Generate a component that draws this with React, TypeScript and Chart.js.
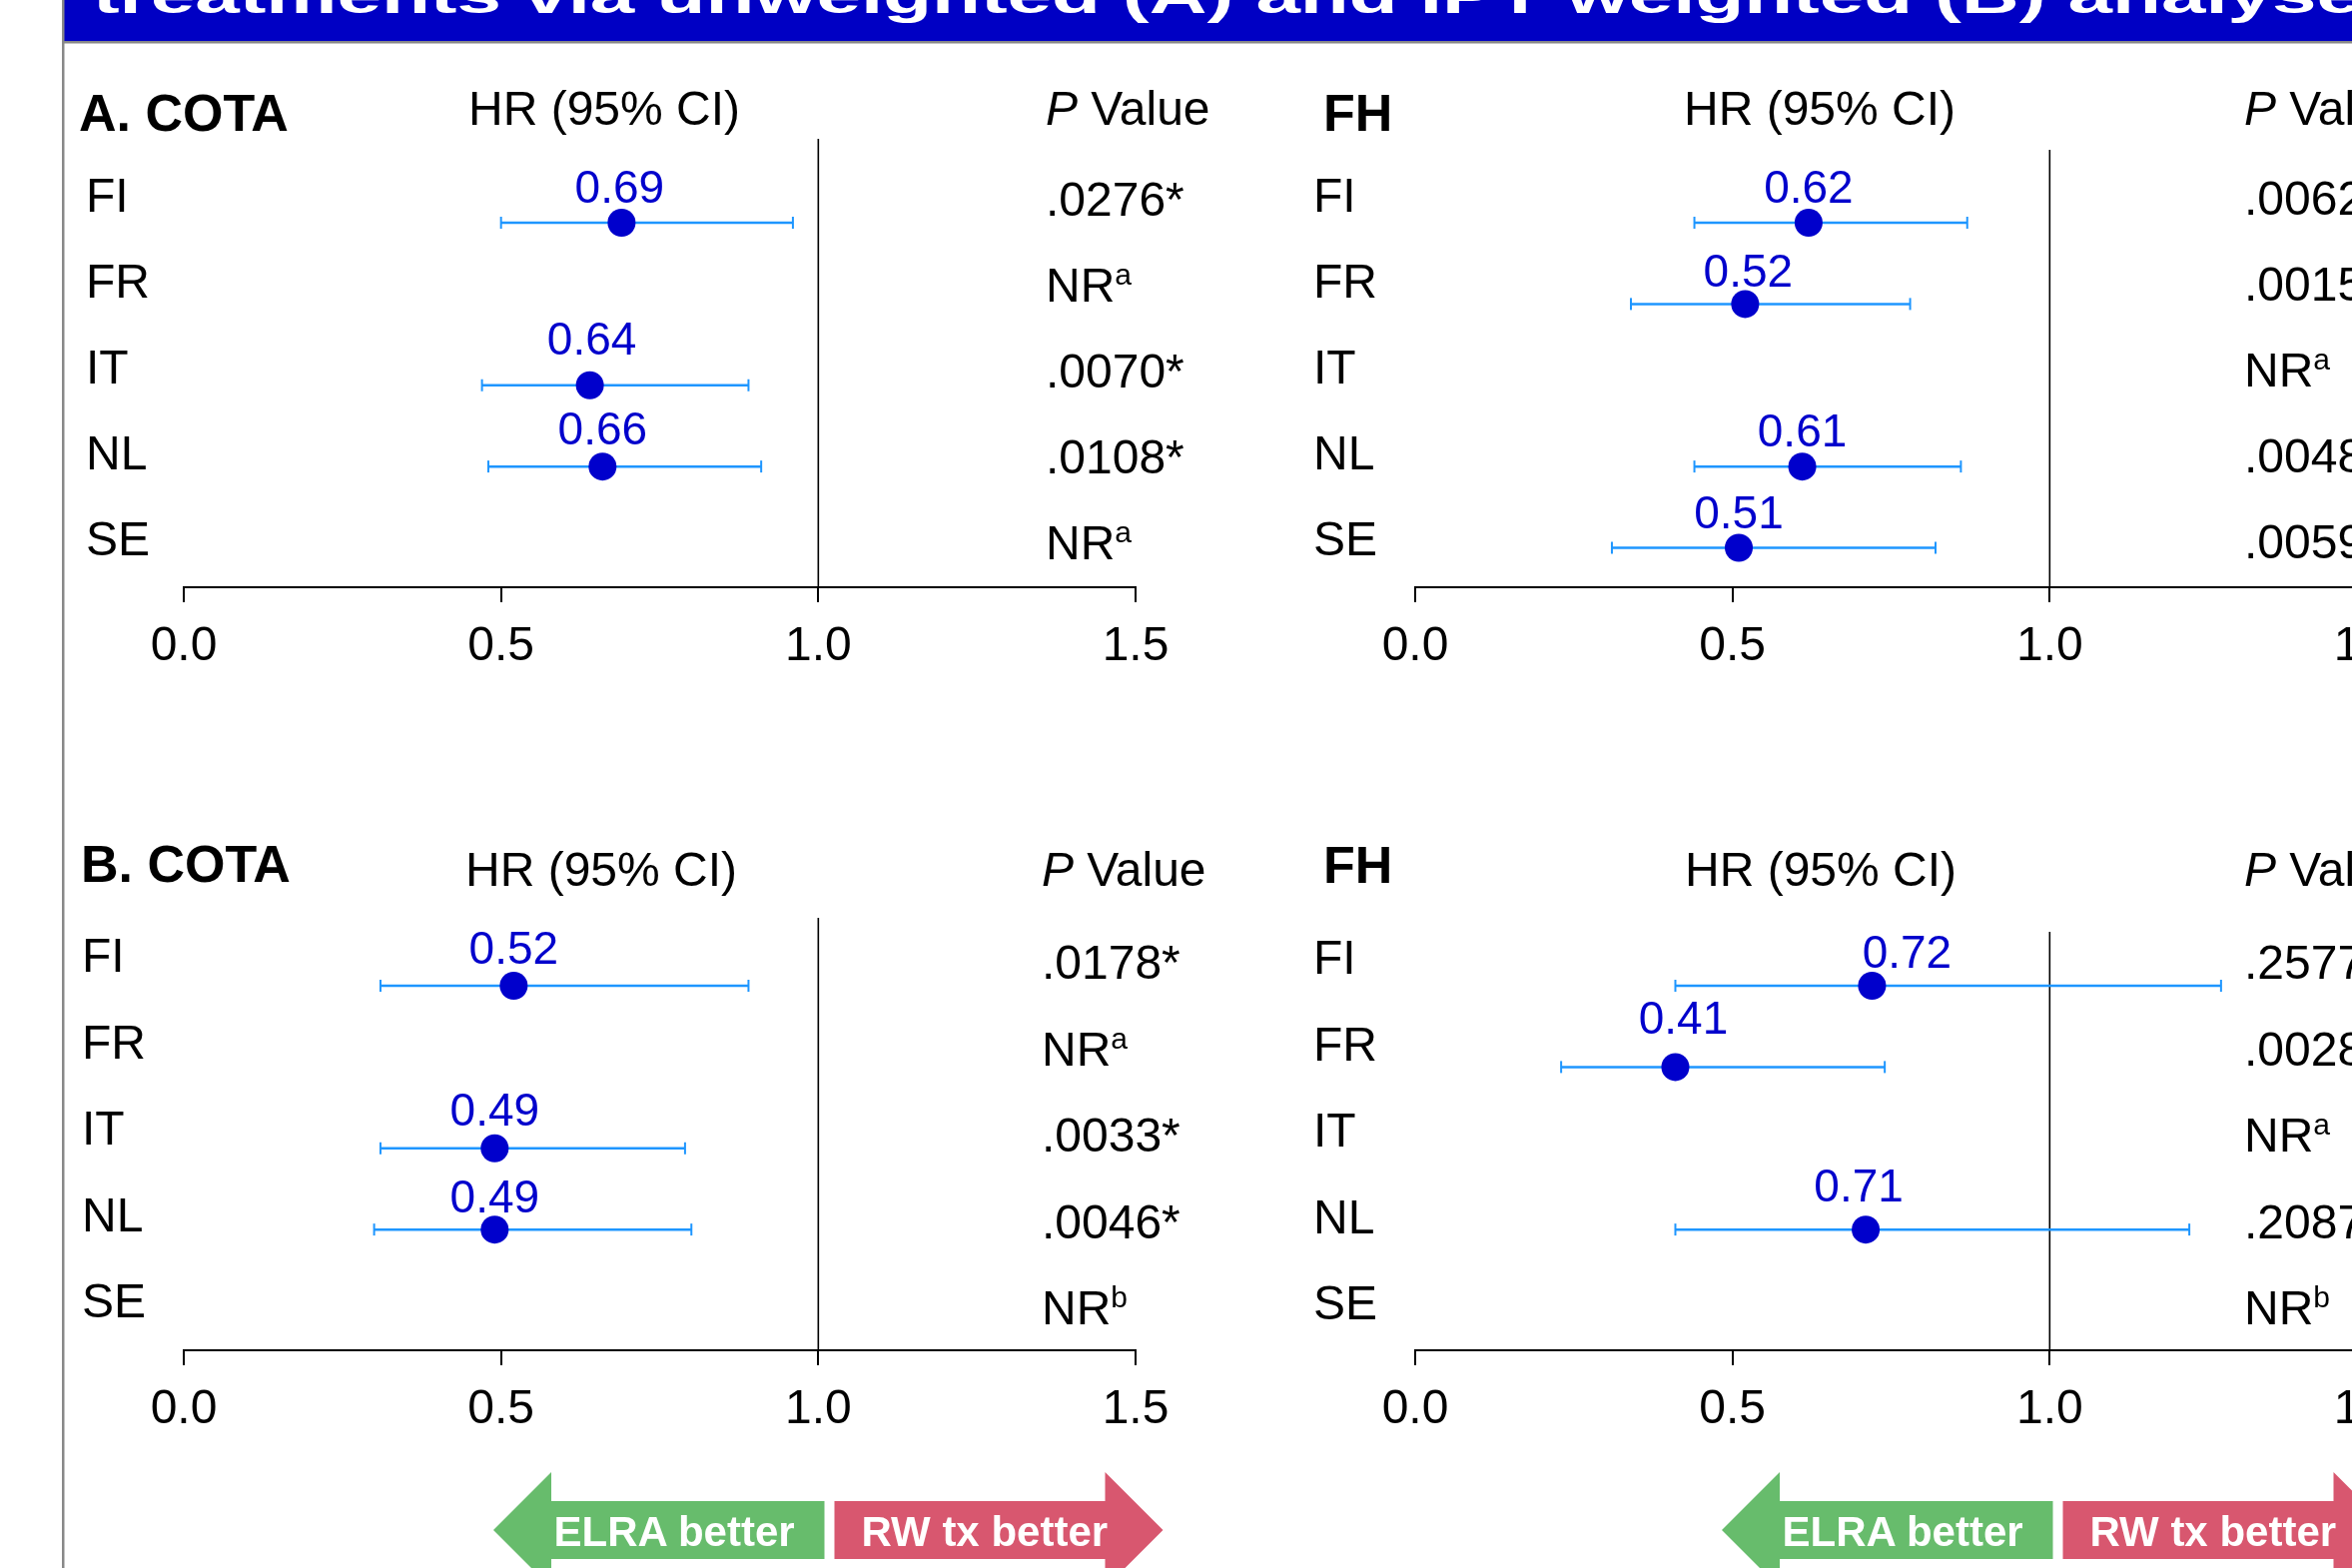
import React, { useEffect, useRef } from 'react';
import { Chart, registerables } from 'chart.js';

Chart.register(...registerables);

// ---------------- DATA ----------------
const countries = ['FI', 'FR', 'IT', 'NL', 'SE'];
const tickValues = [0, 0.5, 1.0, 1.5];

const cotaA_hr = [0.69, null, 0.64, 0.66, null];
const cotaA_lo = [0.5, null, 0.47, 0.48, null];
const cotaA_hi = [0.96, null, 0.89, 0.91, null];
const cotaA_p = ['.0276*', 'NR^a', '.0070*', '.0108*', 'NR^a'];

const fhA_hr = [0.62, 0.52, null, 0.61, 0.51];
const fhA_lo = [0.44, 0.34, null, 0.44, 0.31];
const fhA_hi = [0.87, 0.78, null, 0.86, 0.82];
const fhA_p = ['.0062*', '.0015*', 'NR^a', '.0048*', '.0059*'];

const cotaB_hr = [0.52, null, 0.49, 0.49, null];
const cotaB_lo = [0.31, null, 0.31, 0.3, null];
const cotaB_hi = [0.89, null, 0.79, 0.8, null];
const cotaB_p = ['.0178*', 'NR^a', '.0033*', '.0046*', 'NR^b'];

const fhB_hr = [0.72, 0.41, null, 0.71, null];
const fhB_lo = [0.41, 0.23, null, 0.41, null];
const fhB_hi = [1.27, 0.74, null, 1.22, null];
const fhB_p = ['.2577', '.0028*', 'NR^a', '.2087', 'NR^b'];

const titleText = 'treatments via unweighted (A) and IPT weighted (B) analyses';

// ---------------- STYLE / LAYOUT ----------------
const FONT = "'Liberation Sans', Arial, Helvetica, sans-serif";
const DOT = '#0000CC';
const CI = '#1E96FF';
const BANNER = '#0000C4';
const GREEN = '#67BC6C';
const RED = '#D8576F';

const PAD_L = 60;
const PAD_R = 60;
const X_SPAN = 953; // pixels for 0..1.5
const AREA_H = 496;
const XAXIS_H = 101;
const ROW_PX = 81.375;
const Y_MAX = 4 + 39.5 / ROW_PX;
const Y_MIN = Y_MAX - AREA_H / ROW_PX;

type Panel = {
  key: string;
  title: string;
  hr: (number | null)[];
  lo: (number | null)[];
  hi: (number | null)[];
  p: string[];
  labelGap: number[];
  labelShift: number[];
  x0: number;
  axisY: number;
  refTop: number;
  titleX: number;
  titleY: number;
  hrX: number;
  hrY: number;
  pHX: number;
  pHY: number;
  rowX: number;
  rowY0: number;
  pX: number;
  pY0: number;
  step: number;
};

const panels: Panel[] = [
  {
    key: 'cotaA', title: 'A. COTA', hr: cotaA_hr, lo: cotaA_lo, hi: cotaA_hi, p: cotaA_p,
    labelGap: [20, 20, 31, 22, 20], labelShift: [-2, 0, 2, 0, 0],
    x0: 184, axisY: 588, refTop: 139, titleX: 79, titleY: 131, hrX: 469, hrY: 125,
    pHX: 1047, pHY: 125, rowX: 86, rowY0: 212, pX: 1047, pY0: 216, step: 86,
  },
  {
    key: 'fhA', title: 'FH', hr: fhA_hr, lo: fhA_lo, hi: fhA_hi, p: fhA_p,
    labelGap: [20, 17, 20, 20, 20], labelShift: [0, 3, 0, 0, 0],
    x0: 1417, axisY: 588, refTop: 150, titleX: 1325, titleY: 131, hrX: 1686, hrY: 125,
    pHX: 2247, pHY: 125, rowX: 1315, rowY0: 212, pX: 2247, pY0: 215, step: 86,
  },
  {
    key: 'cotaB', title: 'B. COTA', hr: cotaB_hr, lo: cotaB_lo, hi: cotaB_hi, p: cotaB_p,
    labelGap: [22, 20, 23, 17, 20], labelShift: [0, 0, 0, 0, 0],
    x0: 184, axisY: 1352, refTop: 919, titleX: 81, titleY: 883, hrX: 466, hrY: 887,
    pHX: 1043, pHY: 887, rowX: 82, rowY0: 973, pX: 1043, pY0: 980, step: 86.5,
  },
  {
    key: 'fhB', title: 'FH', hr: fhB_hr, lo: fhB_lo, hi: fhB_hi, p: fhB_p,
    labelGap: [18, 33, 20, 28, 20], labelShift: [35, 8, 0, -7, 0],
    x0: 1417, axisY: 1352, refTop: 933, titleX: 1325, titleY: 884, hrX: 1687, hrY: 887,
    pHX: 2247, pHY: 887, rowX: 1315, rowY0: 975, pX: 2247, pY0: 980, step: 86.5,
  },
];

// ---------------- PLUGINS ----------------
const refLinePlugin = {
  id: 'refLine',
  beforeDatasetsDraw(chart: any, _args: any, opts: any) {
    const { ctx, scales, chartArea } = chart;
    const x = scales.x.getPixelForValue(opts.value);
    const yTop = scales.y.getPixelForValue(opts.from);
    ctx.save();
    ctx.strokeStyle = '#000';
    ctx.lineWidth = 1.6;
    ctx.beginPath();
    ctx.moveTo(x, yTop);
    ctx.lineTo(x, chartArea.bottom);
    ctx.stroke();
    ctx.restore();
  },
};

const hrLabelPlugin = {
  id: 'hrLabels',
  afterDatasetsDraw(chart: any, _args: any, opts: any) {
    const { ctx, scales } = chart;
    const hr: (number | null)[] = opts.hr || [];
    const gap: number[] = opts.gap || [];
    const shift: number[] = opts.shift || [];
    ctx.save();
    ctx.font = `46px ${FONT}`;
    ctx.fillStyle = DOT;
    ctx.textAlign = 'center';
    ctx.textBaseline = 'alphabetic';
    hr.forEach((v, i) => {
      if (v == null) return;
      ctx.fillText(
        v.toFixed(2),
        scales.x.getPixelForValue(v) + (shift[i] || 0),
        scales.y.getPixelForValue(i) - (gap[i] ?? 21)
      );
    });
    ctx.restore();
  },
};

function ForestChart({ panel }: { panel: Panel }) {
  const ref = useRef<HTMLCanvasElement | null>(null);
  useEffect(() => {
    if (!ref.current) return;
    const points = panel.hr
      .map((v, i) => (v == null ? null : { x: v, y: i }))
      .filter((d) => d !== null);
    const ciSets = panel.hr
      .map((v, i) => {
        if (v == null || panel.lo[i] == null || panel.hi[i] == null) return null;
        return {
          type: 'line',
          data: [
            { x: panel.lo[i], y: i },
            { x: panel.hi[i], y: i },
          ],
          borderColor: CI,
          borderWidth: 2.5,
          pointStyle: 'line',
          pointRotation: 90,
          pointRadius: 6,
          pointHoverRadius: 6,
          pointBorderColor: CI,
          pointBorderWidth: 2,
          fill: false,
          order: 1,
        };
      })
      .filter((d) => d !== null);

    const chart = new Chart(ref.current, {
      type: 'scatter',
      data: {
        datasets: [
          {
            type: 'scatter',
            data: points as any,
            pointRadius: 14,
            pointHoverRadius: 14,
            backgroundColor: DOT,
            borderColor: DOT,
            borderWidth: 0,
            order: 0,
          } as any,
          ...(ciSets as any[]),
        ],
      },
      options: {
        animation: false,
        responsive: false,
        maintainAspectRatio: false,
        events: [],
        layout: { autoPadding: false, padding: { left: PAD_L, right: PAD_R, top: 0, bottom: 0 } },
        plugins: {
          legend: { display: false },
          tooltip: { enabled: false },
          refLine: { value: 1, from: (panel.refTop - (panel.axisY - AREA_H)) / ROW_PX + Y_MIN },
          hrLabels: { hr: panel.hr, gap: panel.labelGap, shift: panel.labelShift },
        } as any,
        scales: {
          x: {
            type: 'linear',
            position: 'bottom',
            min: 0,
            max: 1.5,
            afterBuildTicks: (s: any) => {
              s.ticks = tickValues.map((v) => ({ value: v }));
            },
            afterFit: (s: any) => {
              s.height = XAXIS_H;
            },
            grid: { drawOnChartArea: false, drawTicks: true, tickLength: 15, color: '#000', lineWidth: 2 },
            border: { display: true, color: '#000', width: 2 },
            ticks: {
              color: '#000',
              font: { family: FONT, size: 48 },
              padding: 16,
              maxRotation: 0,
              autoSkip: false,
              callback: (v: any) => Number(v).toFixed(1),
            },
          },
          y: { type: 'linear', display: false, reverse: true, min: Y_MIN, max: Y_MAX },
        },
      } as any,
      plugins: [refLinePlugin, hrLabelPlugin],
    });
    return () => chart.destroy();
  }, [panel]);

  const left = panel.x0 - PAD_L;
  const top = panel.axisY - AREA_H;
  const width = X_SPAN + PAD_L + PAD_R;
  const height = AREA_H + XAXIS_H;
  return (
    <canvas
      ref={ref}
      width={width}
      height={height}
      style={{ position: 'absolute', left, top, width, height }}
    />
  );
}

function PText({ s, x, y }: { s: string; x: number; y: number }) {
  const [main, sup] = s.split('^');
  return (
    <text x={x} y={y} fontSize={48} fill="#000">
      {main}
      {sup ? (
        <tspan fontSize={30} dy={-17}>
          {sup}
        </tspan>
      ) : null}
    </text>
  );
}

function Arrows({ x }: { x: number }) {
  // x = left tip x of the green arrow
  const cy = 1532;
  const head = 58;
  const half = 29;
  const gL = x + head;
  const gR = gL + 273.5;
  const rL = gR + 10;
  const rR = rL + 271;
  return (
    <g>
      <polygon
        points={`${x},${cy} ${gL},${cy - head} ${gL},${cy - half} ${gR},${cy - half} ${gR},${cy + half} ${gL},${cy + half} ${gL},${cy + head}`}
        fill={GREEN}
      />
      <polygon
        points={`${rL},${cy - half} ${rR},${cy - half} ${rR},${cy - head} ${rR + head},${cy} ${rR},${cy + head} ${rR},${cy + half} ${rL},${cy + half}`}
        fill={RED}
      />
      <text x={gL + 2.5} y={cy + 16} fontSize={42} fontWeight="bold" fill="#fff">
        ELRA better
      </text>
      <text x={rL + 27} y={cy + 16} fontSize={42} fontWeight="bold" fill="#fff">
        RW tx better
      </text>
    </g>
  );
}

export default function App() {
  return (
    <div
      style={{
        position: 'fixed',
        left: 0,
        top: 0,
        width: 2355,
        height: 1570,
        overflow: 'hidden',
        background: '#fff',
      }}
    >
      {panels.map((p) => (
        <ForestChart key={p.key} panel={p} />
      ))}
      <svg
        width={2355}
        height={1570}
        style={{ position: 'absolute', left: 0, top: 0, pointerEvents: 'none' }}
        fontFamily={FONT}
      >
        <rect x={64} y={0} width={2291} height={41} fill={BANNER} />
        <rect x={64} y={41} width={2291} height={2.5} fill="#888" />
        <rect x={62} y={0} width={2.5} height={1570} fill="#888" />
        <g transform="scale(1,0.62)">
          <text x={93} y={21} fontSize={80} fontWeight="bold" fill="#fff">
            {titleText}
          </text>
        </g>

        {panels.map((p) => (
          <g key={p.key}>
            <text x={p.titleX} y={p.titleY} fontSize={52} fontWeight="bold" fill="#000">
              {p.title}
            </text>
            <text x={p.hrX} y={p.hrY} fontSize={48} fill="#000">
              HR (95% CI)
            </text>
            <text x={p.pHX} y={p.pHY} fontSize={48} fill="#000">
              <tspan fontStyle="italic">P</tspan>
              <tspan> Value</tspan>
            </text>
            {countries.map((c, i) => (
              <text key={c} x={p.rowX} y={p.rowY0 + i * p.step} fontSize={48} fill="#000">
                {c}
              </text>
            ))}
            {p.p.map((s, i) => (
              <PText key={i} s={s} x={p.pX} y={p.pY0 + i * p.step} />
            ))}
          </g>
        ))}

        <Arrows x={494} />
        <Arrows x={1724} />
      </svg>
    </div>
  );
}
